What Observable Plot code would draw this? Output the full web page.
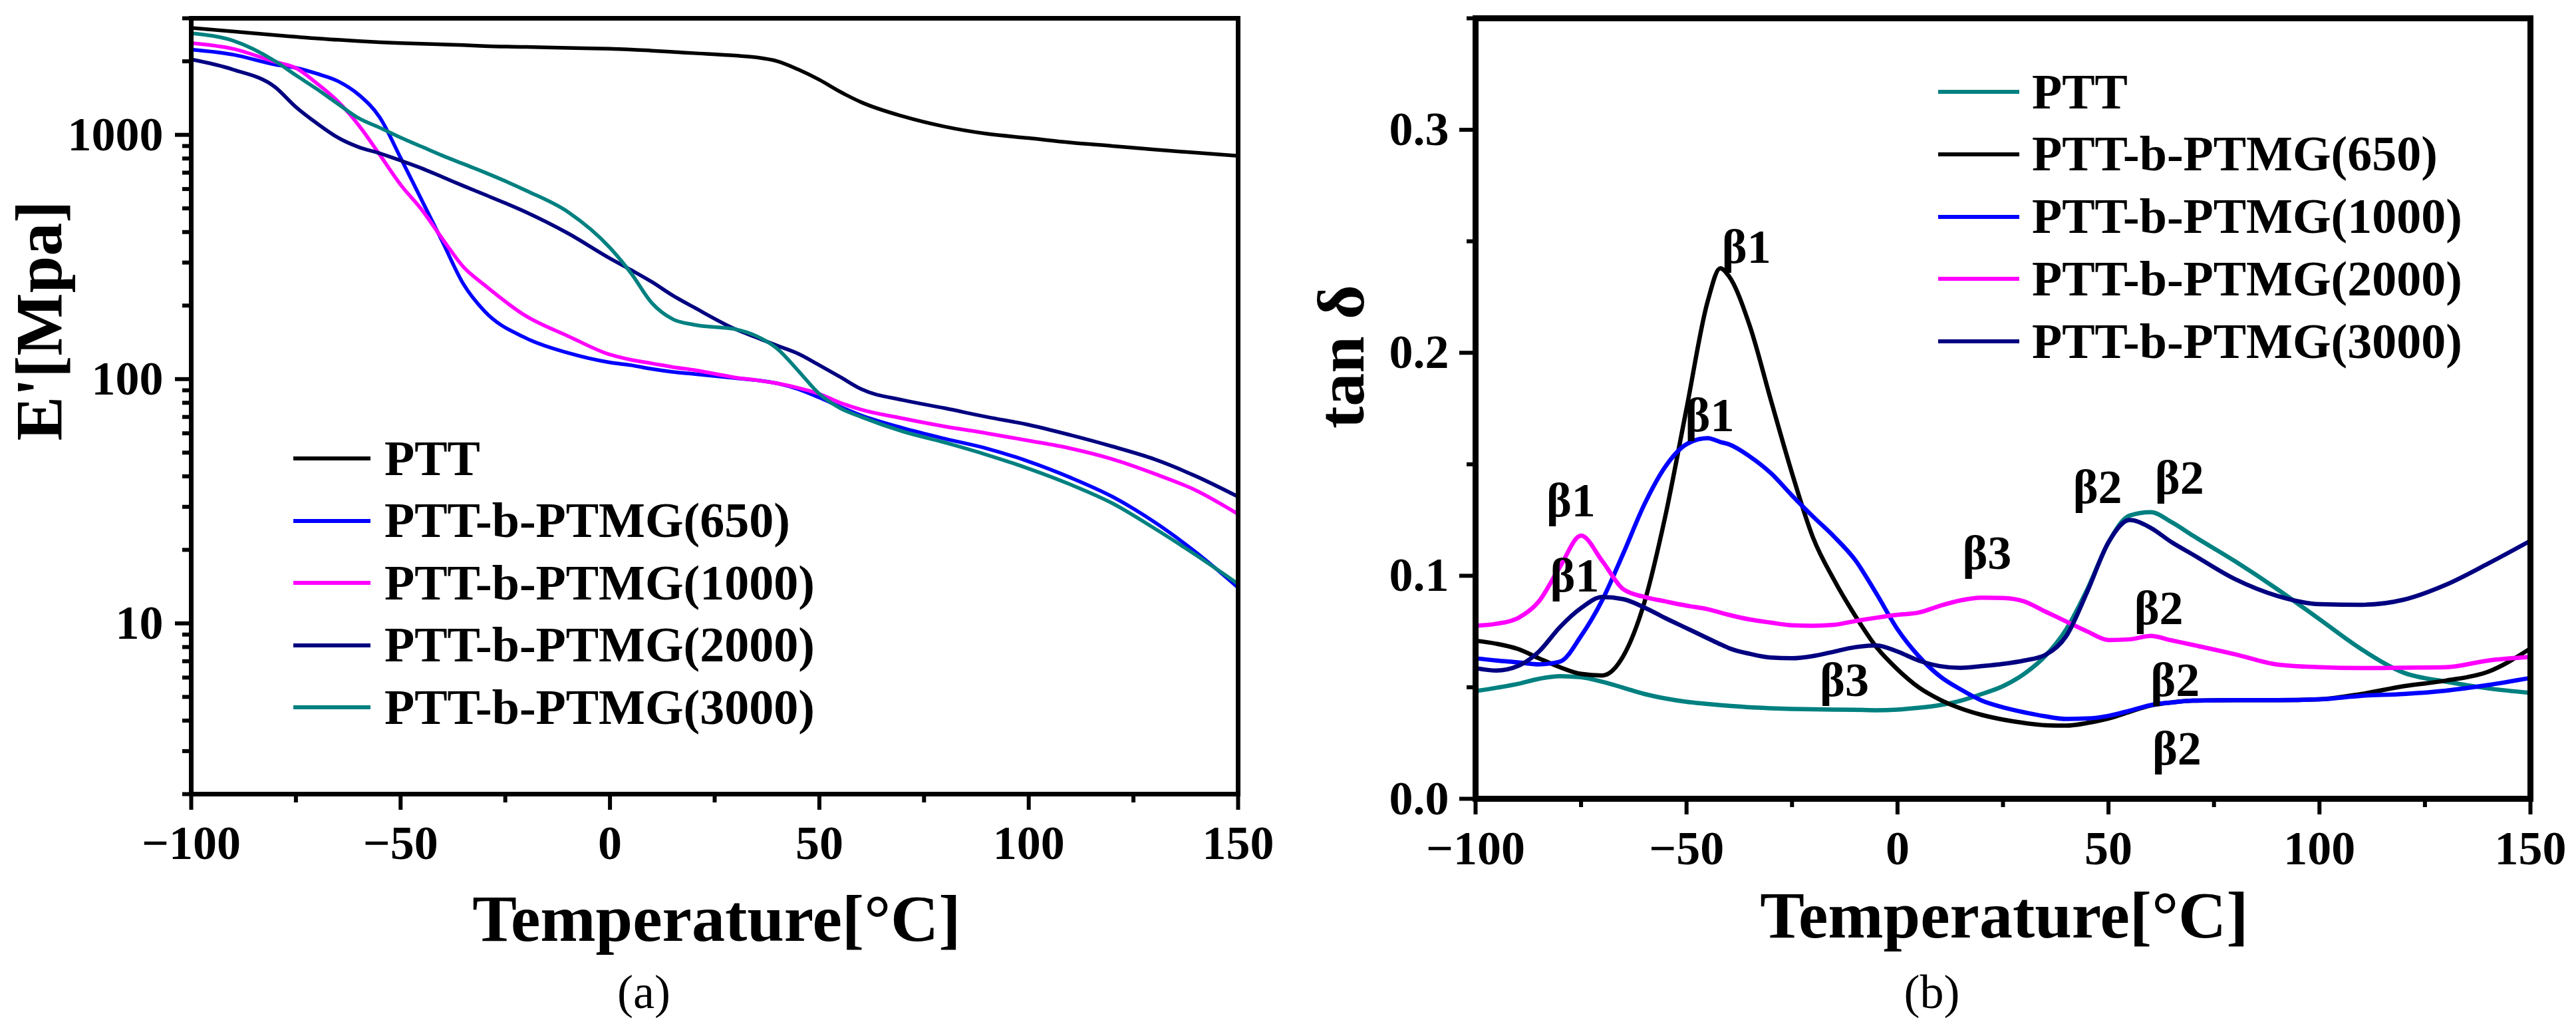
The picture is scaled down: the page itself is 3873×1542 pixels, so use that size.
<!DOCTYPE html>
<html>
<head>
<meta charset="utf-8">
<script src="https://cdn.jsdelivr.net/npm/d3@7"></script>
<script src="https://cdn.jsdelivr.net/npm/@observablehq/plot@0.6"></script>
<style>
  html, body { margin: 0; padding: 0; background: #fff; overflow: hidden; }
  #wrap { display: flex; width: 3873px; height: 1542px; }
  .panel { position: relative; height: 1542px; }
  .caption { font-family: "Liberation Serif", "Times New Roman", serif; font-size: 72px; text-align: center; line-height: 102px; height: 102px; color: #000; }
  .legend-row { position: absolute; display: flex; align-items: center; height: 100px; white-space: nowrap; }
  .legend-row .sw { height: 6px; }
  .legend-row .lb { font-family: "Liberation Serif", "Times New Roman", serif; font-weight: bold; font-size: 74px; color: #000; }
</style>
</head>
<body>
<div id="wrap">
  <div class="panel" id="pa" style="width:1936px"></div>
  <div class="panel" id="pb" style="width:1937px"></div>
</div>
<script>
// ---------- data ----------
const seriesNames = ["PTT", "PTT-b-PTMG(650)", "PTT-b-PTMG(1000)", "PTT-b-PTMG(2000)", "PTT-b-PTMG(3000)"];

// Panel (a): storage modulus E' [MPa]
const temperatureA = [-100,-90,-80,-75,-70,-65,-60,-55,-50,-45,-40,-35,-30,-20,-10,0,5,10,15,20,30,35,40,45,50,55,60,70,80,90,100,110,120,130,140,150];
const ePTT  = [2740,2650,2560,2520,2480,2450,2420,2395,2375,2360,2345,2330,2310,2290,2270,2250,2235,2210,2185,2160,2110,2075,2000,1850,1680,1500,1360,1190,1080,1010,970,930,900,870,845,820];
const e650  = [2234,2130,1940,1880,1780,1660,1460,1180,805,542,365,245,190,147,128,117,114,110,107,105,101,99,96,91,84,77,71,63,57,52,46,39.5,33,26,19.5,14];
const e1000 = [2375,2250,1990,1877,1625,1372,1095,830,625,495,375,288,243,181,150,126,120,116,112,109,101.5,99,96,92,87,80,75,69,64,60,56,52,47,41,35,28];
const e2000 = [2036,1850,1570,1300,1115,975,891,841,785,730,672,618,570,482,395,312,280,250,220,197,160,148,137,127,114,102,91,82,76,70,65,59,53,47,40,33];
const e3000 = [2606,2430,2005,1754,1540,1340,1170,1070,975,895,822,760,703,591,483,345,272,205,176,167,160,150,133,108,87,76,70,61,55,49,43,37,31,24.5,19,14.5];
const colorsA = ["#000000", "#0000ff", "#ff00ff", "#000080", "#008080"];

// Panel (b): tan delta
const temperatureB = [-100,-95,-90,-85,-80,-75,-70,-65,-60,-55,-50,-45,-42,-40,-35,-30,-25,-20,-15,-10,-5,0,5,10,15,20,25,30,35,40,45,50,55,60,65,70,80,90,100,110,120,130,140,150];
const tPTT  = [0.0483,0.0498,0.0515,0.0538,0.0550,0.0545,0.0525,0.0498,0.0470,0.0450,0.0435,0.0425,0.0420,0.0417,0.0410,0.0406,0.0403,0.0401,0.0400,0.0399,0.0397,0.0400,0.0408,0.0420,0.0440,0.0470,0.0505,0.0560,0.0640,0.0760,0.0940,0.1150,0.1270,0.1285,0.1240,0.1180,0.1065,0.0940,0.0805,0.0670,0.0565,0.0525,0.0495,0.0475];
const t650  = [0.0709,0.0695,0.0672,0.0630,0.0590,0.0560,0.0553,0.0640,0.0880,0.1270,0.1750,0.2230,0.2379,0.2345,0.2120,0.1787,0.1460,0.1170,0.0980,0.0820,0.0680,0.0580,0.0500,0.0445,0.0405,0.0376,0.0355,0.0340,0.0330,0.0328,0.0340,0.0360,0.0390,0.0418,0.0432,0.0440,0.0442,0.0442,0.0446,0.0470,0.0505,0.0530,0.0570,0.0674];
const t1000 = [0.0630,0.0620,0.0612,0.0603,0.0615,0.0730,0.0890,0.1100,0.1320,0.1490,0.1590,0.1617,0.1600,0.1590,0.1535,0.1460,0.1360,0.1265,0.1175,0.1070,0.0920,0.0760,0.0640,0.0550,0.0490,0.0440,0.0410,0.0388,0.0370,0.0358,0.0360,0.0372,0.0395,0.0420,0.0432,0.0440,0.0442,0.0442,0.0446,0.0462,0.0470,0.0485,0.0510,0.0542];
const t2000 = [0.0776,0.0785,0.0810,0.0885,0.1040,0.1180,0.1067,0.0940,0.0905,0.0885,0.0866,0.0850,0.0835,0.0825,0.0804,0.0790,0.0778,0.0776,0.0780,0.0797,0.0812,0.0825,0.0835,0.0865,0.0890,0.0902,0.0900,0.0885,0.0840,0.0795,0.0750,0.0712,0.0715,0.0730,0.0710,0.0690,0.0648,0.0602,0.0590,0.0586,0.0588,0.0590,0.0620,0.0636];
const t3000 = [0.0586,0.0575,0.0595,0.0660,0.0770,0.0855,0.0905,0.0895,0.0858,0.0810,0.0765,0.0720,0.0693,0.0676,0.0650,0.0633,0.0630,0.0640,0.0660,0.0680,0.0688,0.0660,0.0620,0.0595,0.0587,0.0595,0.0605,0.0620,0.0645,0.0730,0.0930,0.1150,0.1250,0.1215,0.1150,0.1095,0.0985,0.0910,0.0873,0.0870,0.0893,0.0960,0.1055,0.1157];
const colorsB = ["#008080", "#000000", "#0000ff", "#ff00ff", "#000080"];

// Peak annotations in (b)
const peakText = ["β1","β1","β1","β1","β3","β3","β2","β2","β2","β2","β2"];
const peakT    = [-35.8,-44.5,-77.4,-76.5,21.2,-12.6,47.4,66.8,61.9,65.8,66.2];
const peakTan  = [0.2473,0.1717,0.1336,0.0999,0.110,0.0529,0.1395,0.1438,0.0852,0.0529,0.0221];

// Ticks
const majorX = [-100,-50,0,50,100,150];
const minorX = [-75,-25,25,75,125];
const majorYA = [10,100,1000];
const minorYA = [2,3,4,5,6,7,8,9,20,30,40,50,60,70,80,90,200,300,400,500,600,700,800,900,2000,3000];
const majorYB = [0,0.1,0.2,0.3];
const minorYB = [0.05,0.15,0.25,0.35];

// ---------- drawing ----------
const SERIF = '"Liberation Serif", "Times New Roman", serif';

function lineMarks(temps, seriesList, colors, width) {
  return seriesList.map((vals, i) =>
    Plot.line(vals, {x: (d, j) => temps[j], y: d => d, stroke: colors[i], strokeWidth: width, curve: "monotone-x"})
  );
}

function axes(majorY, minorY, yFormat, frameWidth, xPad, yPad) {
  return [
    Plot.frame({strokeWidth: frameWidth, stroke: "#000"}),
    Plot.axisX({ticks: majorX, tickSize: 24, tickPadding: xPad, strokeWidth: 6, fontSize: 72, fontWeight: "bold", fontFamily: SERIF, label: null}),
    Plot.axisX({ticks: minorX, tickSize: 13, strokeWidth: 6, tickFormat: () => "", fill: "none", label: null}),
    Plot.axisY({ticks: majorY, tickSize: 24, tickPadding: yPad, strokeWidth: 6, fontSize: 72, fontWeight: "bold", fontFamily: SERIF, tickFormat: yFormat, label: null}),
    Plot.axisY({ticks: minorY, tickSize: 13, strokeWidth: 6, tickFormat: () => "", fill: "none", label: null})
  ];
}

const plotA = Plot.plot({
  width: 1936, height: 1440,
  marginLeft: 287, marginRight: 75, marginTop: 27, marginBottom: 247,
  x: {domain: [-100, 150]},
  y: {type: "log", domain: [2, 3000]},
  style: {fontFamily: SERIF, background: "white", overflow: "visible", color: "#000"},
  marks: [
    ...lineMarks(temperatureA, [ePTT, e650, e1000, e2000, e3000], colorsA, 5.5),
    ...axes(majorYA, minorYA, d => String(d), 7, 22, 18),
    Plot.text(["Temperature[°C]"], {text: d => d, frameAnchor: "bottom", dx: 3, dy: 188, fontSize: 100, fontWeight: "bold", fontFamily: SERIF, lineAnchor: "middle"}),
    Plot.text(["E'[Mpa]"], {text: d => d, frameAnchor: "left", dx: -228, dy: 52, rotate: -90, fontSize: 100, fontWeight: "bold", fontFamily: SERIF, lineAnchor: "middle"})
  ]
});

const plotB = Plot.plot({
  width: 1937, height: 1440,
  marginLeft: 282, marginRight: 69, marginTop: 27, marginBottom: 240,
  x: {domain: [-100, 150]},
  y: {domain: [0, 0.35]},
  style: {fontFamily: SERIF, background: "white", overflow: "visible", color: "#000"},
  marks: [
    ...lineMarks(temperatureB, [tPTT, t650, t1000, t2000, t3000], colorsB, 6.5),
    Plot.text(peakText, {x: (d, i) => peakT[i], y: (d, i) => peakTan[i], text: d => d, fontSize: 72, fontWeight: "bold", fontFamily: SERIF, lineAnchor: "middle", fill: "#000"}),
    ...axes(majorYB, minorYB, d3.format(".1f"), 9, 23, 16),
    Plot.text(["Temperature[°C]"], {text: d => d, frameAnchor: "bottom", dx: 2, dy: 176, fontSize: 100, fontWeight: "bold", fontFamily: SERIF, lineAnchor: "middle"}),
    Plot.text(["tan δ"], {text: d => d, frameAnchor: "left", dx: -201, dy: 30, rotate: -90, fontSize: 100, fontWeight: "bold", fontFamily: SERIF, lineAnchor: "middle"})
  ]
});

function addPanel(id, plot, caption, colors, legendLeft, legendTop, legendStep, swatchWidth, gap) {
  const panel = document.getElementById(id);
  plot.style.display = "block";
  panel.appendChild(plot);
  const cap = document.createElement("div");
  cap.className = "caption";
  cap.textContent = caption;
  panel.appendChild(cap);
  seriesNames.forEach((name, i) => {
    const row = document.createElement("div");
    row.className = "legend-row";
    row.style.left = legendLeft + "px";
    row.style.top = (legendTop + i * legendStep - 50) + "px";
    const sw = document.createElement("div");
    sw.className = "sw";
    sw.style.width = swatchWidth + "px";
    sw.style.background = colors[i];
    const lb = document.createElement("span");
    lb.className = "lb";
    lb.style.marginLeft = gap + "px";
    lb.textContent = name;
    row.appendChild(sw);
    row.appendChild(lb);
    panel.appendChild(row);
  });
}

addPanel("pa", plotA, "(a)", colorsA, 441, 689, 93.5, 116, 21);
addPanel("pb", plotB, "(b)", colorsB, 978, 138, 93.75, 122, 19);
</script>
</body>
</html>
